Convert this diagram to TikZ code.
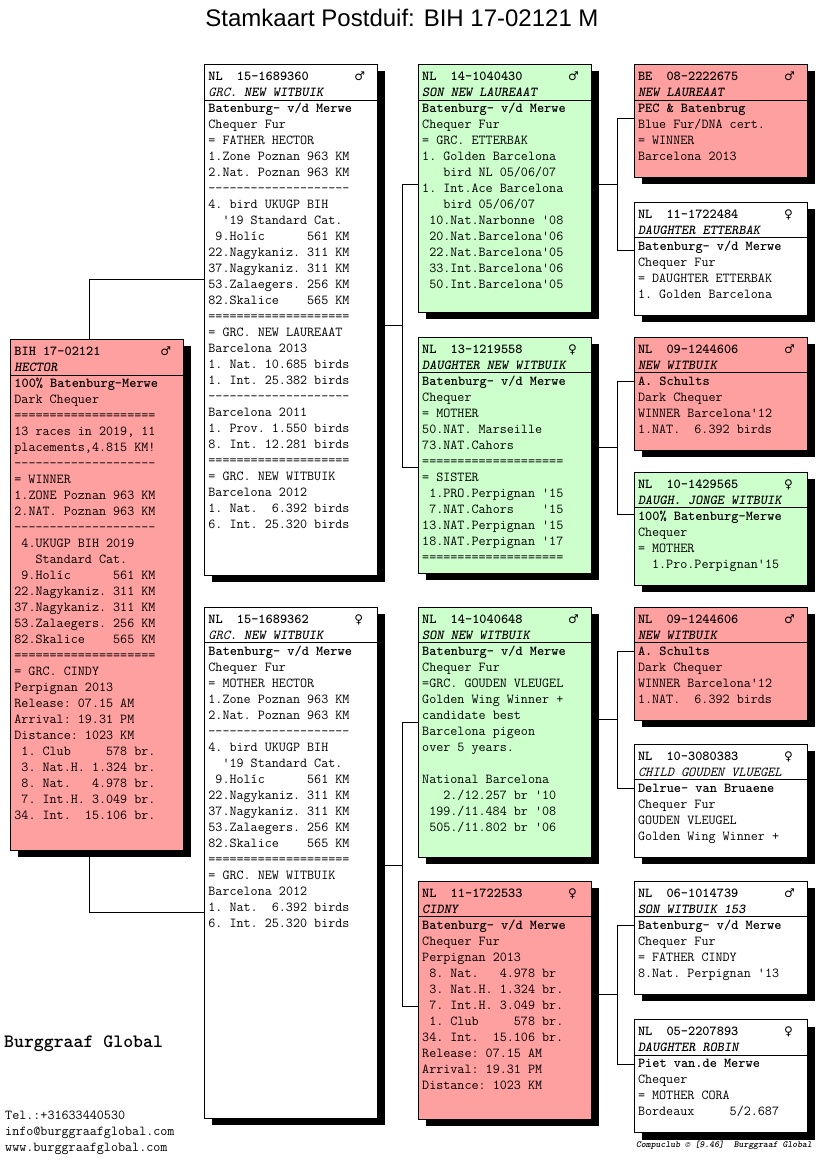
\documentclass[tikz,border=0pt]{standalone}
\usepackage{fontspec}
\newfontfamily\titlefont{Liberation Sans}
\newfontfamily\gsymfont{DejaVu Sans}
\usetikzlibrary{positioning,shadows}

\definecolor{pinkcard}{RGB}{255,160,160}
\definecolor{greencard}{RGB}{204,255,204}
\newcommand{\cardfont}{\fontsize{13.7}{16}\selectfont\ttfamily}
\newcommand{\gmale}{\hfill\makebox[19pt][l]{\gsymfont\fontsize{12}{16}\selectfont ♂}}
\newcommand{\gfemale}{\hfill\makebox[19pt][l]{\gsymfont\fontsize{12}{16}\selectfont ♀}}
\newcommand{\dashrule}{-{}-{}-{}-{}-{}-{}-{}-{}-{}-{}-{}-{}-{}-{}-{}-{}-{}-{}-{}-}
\newcommand{\eqrule}{====================}

\tikzset{
  card/.style={draw=black, line width=0.8pt, anchor=north west, inner xsep=4pt, inner ysep=0pt,
    text width=165pt, align=flush left, text height=16pt, font=\cardfont,
    execute at begin node={\spaceskip=\fontcharwd\font`0\relax\xspaceskip=\spaceskip},
    drop shadow={shadow xshift=8pt, shadow yshift=-7pt, fill=black, opacity=1}},
  link/.style={draw=black, line width=0.8pt}
}

\begin{document}
\begin{tikzpicture}[x=1pt, y=-1pt]
  \useasboundingbox (0,0) rectangle (816,1172);
  % Title
  \node[font=\titlefont\fontsize{24}{28}\selectfont] (title) at (402,18) {Stamkaart Postduif: BIH 17-02121 M};

  % Nodes
  \node[card, fill=pinkcard, text depth=495pt] (hector) at (10,339) {
    \textbf{BIH 17-02121}\gmale\\ \textbf{\textit{HECTOR}}\\
    \textbf{100\% Batenburg-Merwe}\\ Dark Chequer\\ \eqrule\\
    13 races in 2019, 11\\ placements,4.815 KM!\\ \dashrule\\
    = WINNER\\ 1.ZONE Poznan 963 KM\\ 2.NAT. Poznan 963 KM\\ \dashrule\\
    \mbox{}~4.UKUGP BIH 2019\\ \mbox{}~~~Standard Cat.\\
    \mbox{}~9.Holíc~~~~~~561 KM\\ 22.Nagykaniz. 311 KM\\ 37.Nagykaniz. 311 KM\\
    53.Zalaegers. 256 KM\\ 82.Skalice~~~~565 KM\\ \eqrule\\
    = GRC. CINDY\\ Perpignan 2013\\ Release: 07.15 AM\\ Arrival: 19.31 PM\\ Distance: 1023 KM\\
    \mbox{}~1. Club~~~~~578 br.\\ \mbox{}~3. Nat.H. 1.324 br.\\ \mbox{}~8. Nat.~~~4.978 br.\\
    \mbox{}~7. Int.H. 3.049 br.\\ 34. Int.~~15.106 br.
  };
  \node[card, fill=white, text depth=495pt] (grcsire) at (204,64) {
    \textbf{NL~~15-1689360}\gmale\\ \textit{GRC.} \textbf{\textit{NEW WITBUIK}}\\
    \textbf{Batenburg- v/d Merwe}\\ Chequer Fur\\ = FATHER HECTOR\\
    1.Zone Poznan 963 KM\\ 2.Nat. Poznan 963 KM\\ \dashrule\\
    4. bird UKUGP BIH\\ \mbox{}~~'19 Standard Cat.\\
    \mbox{}~9.Holíc~~~~~~561 KM\\ 22.Nagykaniz. 311 KM\\ 37.Nagykaniz. 311 KM\\
    53.Zalaegers. 256 KM\\ 82.Skalice~~~~565 KM\\ \eqrule\\
    = GRC. NEW LAUREAAT\\ Barcelona 2013\\ 1. Nat. 10.685 birds\\ 1. Int. 25.382 birds\\ \dashrule\\
    Barcelona 2011\\ 1. Prov. 1.550 birds\\ 8. Int. 12.281 birds\\ \eqrule\\
    = GRC. NEW WITBUIK\\ Barcelona 2012\\ 1. Nat.~~6.392 birds\\ 6. Int. 25.320 birds
  };
  \node[card, fill=white, text depth=495pt, below=31pt of grcsire.south west, anchor=north west] (grcdam) {
    \textbf{NL~~15-1689362}\gfemale\\ \textit{GRC.} \textbf{\textit{NEW WITBUIK}}\\
    \textbf{Batenburg- v/d Merwe}\\ Chequer Fur\\ = MOTHER HECTOR\\
    1.Zone Poznan 963 KM\\ 2.Nat. Poznan 963 KM\\ \dashrule\\
    4. bird UKUGP BIH\\ \mbox{}~~'19 Standard Cat.\\
    \mbox{}~9.Holíc~~~~~~561 KM\\ 22.Nagykaniz. 311 KM\\ 37.Nagykaniz. 311 KM\\
    53.Zalaegers. 256 KM\\ 82.Skalice~~~~565 KM\\ \eqrule\\
    = GRC. NEW WITBUIK\\ Barcelona 2012\\ 1. Nat.~~6.392 birds\\ 6. Int. 25.320 birds
  };

  \node[card, fill=greencard, text depth=232pt, right=40pt of grcsire.north east, anchor=north west] (sonlau) {
    \textbf{NL~~14-1040430}\gmale\\ \textbf{\textit{SON NEW LAUREAAT}}\\
    \textbf{Batenburg- v/d Merwe}\\ Chequer Fur\\ = GRC. ETTERBAK\\
    1. Golden Barcelona\\ \mbox{}~~~bird NL 05/06/07\\ 1. Int.Ace Barcelona\\ \mbox{}~~~bird 05/06/07\\
    \mbox{}~10.Nat.Narbonne '08\\ \mbox{}~20.Nat.Barcelona'06\\ \mbox{}~22.Nat.Barcelona'05\\
    \mbox{}~33.Int.Barcelona'06\\ \mbox{}~50.Int.Barcelona'05
  };
  \node[card, fill=greencard, text depth=220pt, below=24pt of sonlau.south west, anchor=north west] (dauwit) {
    \textbf{NL~~13-1219558}\gfemale\\ \textbf{\textit{DAUGHTER NEW WITBUIK}}\\
    \textbf{Batenburg- v/d Merwe}\\ Chequer\\ = MOTHER\\ 50.NAT. Marseille\\ 73.NAT.Cahors\\ \eqrule\\
    = SISTER\\ \mbox{}~1.PRO.Perpignan '15\\ \mbox{}~7.NAT.Cahors~~~~'15\\
    13.NAT.Perpignan '15\\ 18.NAT.Perpignan '17\\ \eqrule
  };
  \node[card, fill=greencard, text depth=234pt, right=40pt of grcdam.north east, anchor=north west] (sonwit) {
    \textbf{NL~~14-1040648}\gmale\\ \textbf{\textit{SON NEW WITBUIK}}\\
    \textbf{Batenburg- v/d Merwe}\\ Chequer Fur\\ =GRC. GOUDEN VLEUGEL\\ Golden Wing Winner +\\
    candidate best\\ Barcelona pigeon\\ over 5 years.\\ \mbox{}\\ National Barcelona\\
    \mbox{}~~~2./12.257 br '10\\ \mbox{}~199./11.484 br '08\\ \mbox{}~505./11.802 br '06
  };
  \node[card, fill=pinkcard, text depth=222pt, below=23pt of sonwit.south west, anchor=north west] (cidny) {
    \textbf{NL~~11-1722533}\gfemale\\ \textbf{\textit{CIDNY}}\\
    \textbf{Batenburg- v/d Merwe}\\ Chequer Fur\\ Perpignan 2013\\
    \mbox{}~8. Nat.~~~4.978 br\\ \mbox{}~3. Nat.H. 1.324 br.\\ \mbox{}~7. Int.H. 3.049 br.\\
    \mbox{}~1. Club~~~~~578 br.\\ 34. Int.~~15.106 br.\\
    Release: 07.15 AM\\ Arrival: 19.31 PM\\ Distance: 1023 KM
  };

  \node[card, fill=pinkcard, text depth=97pt, right=42pt of sonlau.north east, anchor=north west] (newlau) {
    \textbf{BE~~08-2222675}\gmale\\ \textbf{\textit{NEW LAUREAAT}}\\
    \textbf{PEC \& Batenbrug}\\ Blue Fur/DNA cert.\\ = WINNER\\ Barcelona 2013
  };
  \node[card, fill=white, text depth=97pt, below=24pt of newlau.south west, anchor=north west] (dauett) {
    \textbf{NL~~11-1722484}\gfemale\\ \textbf{\textit{DAUGHTER ETTERBAK}}\\
    \textbf{Batenburg- v/d Merwe}\\ Chequer Fur\\ = DAUGHTER ETTERBAK\\ 1. Golden Barcelona
  };
  \node[card, fill=pinkcard, text depth=97pt, right=42pt of dauwit.north east, anchor=north west] (newwita) {
    \textbf{NL~~09-1244606}\gmale\\ \textbf{\textit{NEW WITBUIK}}\\
    \textbf{A. Schults}\\ Dark Chequer\\ WINNER Barcelona'12\\ 1.NAT.~~6.392 birds
  };
  \node[card, fill=greencard, text depth=97pt, below=21pt of newwita.south west, anchor=north west] (daujw) {
    \textbf{NL~~10-1429565}\gfemale\\ \textbf{\textit{DAUGH. JONGE WITBUIK}}\\
    \textbf{100\% Batenburg-Merwe}\\ Chequer\\ = MOTHER\\ \mbox{}~~1.Pro.Perpignan'15
  };
  \node[card, fill=pinkcard, text depth=97pt, right=42pt of sonwit.north east, anchor=north west] (newwitb) {
    \textbf{NL~~09-1244606}\gmale\\ \textbf{\textit{NEW WITBUIK}}\\
    \textbf{A. Schults}\\ Dark Chequer\\ WINNER Barcelona'12\\ 1.NAT.~~6.392 birds
  };
  \node[card, fill=white, text depth=97pt, below=23pt of newwitb.south west, anchor=north west] (childgv) {
    \textbf{NL~~10-3080383}\gfemale\\ \textit{CHILD GOUDEN VLUEGEL}\\
    \textbf{Delrue- van Bruaene}\\ Chequer Fur\\ GOUDEN VLEUGEL\\ Golden Wing Winner +
  };
  \node[card, fill=white, text depth=97pt, right=42pt of cidny.north east, anchor=north west] (sonwit153) {
    \textbf{NL~~06-1014739}\gmale\\ \textbf{\textit{SON WITBUIK 153}}\\
    \textbf{Batenburg- v/d Merwe}\\ Chequer Fur\\ = FATHER CINDY\\ 8.Nat. Perpignan '13
  };
  \node[card, fill=white, text depth=97pt, below=25pt of sonwit153.south west, anchor=north west] (daurob) {
    \textbf{NL~~05-2207893}\gfemale\\ \textbf{\textit{DAUGHTER ROBIN}}\\
    \textbf{Piet van.de Merwe}\\ Chequer\\ = MOTHER CORA\\ Bordeaux~~~~~5/2.687
  };

  % header rules
  \foreach \cardname in {hector,grcsire,grcdam,sonlau,dauwit,sonwit,cidny,newlau,dauett,newwita,daujw,newwitb,childgv,sonwit153,daurob}
    \draw[link] ([yshift=-36pt]\cardname.north west) -- ([yshift=-36pt]\cardname.north east);

  % Connectors
  \draw[link] ([xshift=-7.5pt]hector.north) |- ([yshift=-215pt]grcsire.north west);
  \draw[link] ([xshift=-7.5pt]hector.south) |- ([yshift=-306pt]grcdam.north west);
  \draw[link] ([yshift=-261pt]grcsire.north east) -- ++(25,0) coordinate (sirejoin);
  \draw[link] ([yshift=-120pt]sonlau.north west) -| (sirejoin) |- ([yshift=-131pt]dauwit.north west);
  \draw[link] ([yshift=-259pt]grcdam.north east) -- ++(25,0) coordinate (damjoin);
  \draw[link] ([yshift=-116pt]sonwit.north west) -| (damjoin) |- ([yshift=-126pt]cidny.north west);
  \draw[link] ([yshift=-120pt]sonlau.north east) -- ++(26,0) coordinate (laujoin);
  \draw[link] ([yshift=-54pt]newlau.north west) -| (laujoin) |- ([yshift=-49pt]dauett.north west);
  \draw[link] ([yshift=-111pt]dauwit.north east) -- ++(26,0) coordinate (dwjoin);
  \draw[link] ([yshift=-45pt]newwita.north west) -| (dwjoin) |- ([yshift=-43pt]daujw.north west);
  \draw[link] ([yshift=-113pt]sonwit.north east) -- ++(26,0) coordinate (swjoin);
  \draw[link] ([yshift=-45pt]newwitb.north west) -| (swjoin) |- ([yshift=-45pt]childgv.north west);
  \draw[link] ([yshift=-114pt]cidny.north east) -- ++(26,0) coordinate (cijoin);
  \draw[link] ([yshift=-45pt]sonwit153.north west) -| (cijoin) |- ([yshift=-45pt]daurob.north west);

  % Footer
  \node[anchor=west, inner sep=0pt, font=\fontsize{18.9}{20}\selectfont\ttfamily\bfseries] (brand) at (4,1044) {Burggraaf Global};
  \node[anchor=north west, inner sep=0pt, text width=200pt, align=flush left, text height=16pt, font=\cardfont] (contact) at (5,1103) {Tel.:+31633440530\\ info@burggraafglobal.com\\ www.burggraafglobal.com};
  \node[anchor=west, inner sep=0pt, font=\fontsize{9.3}{11}\selectfont\ttfamily\bfseries\itshape] (credit) at (636,1145) {Compuclub © [9.46]~~Burggraaf Global};
\end{tikzpicture}
\end{document}
